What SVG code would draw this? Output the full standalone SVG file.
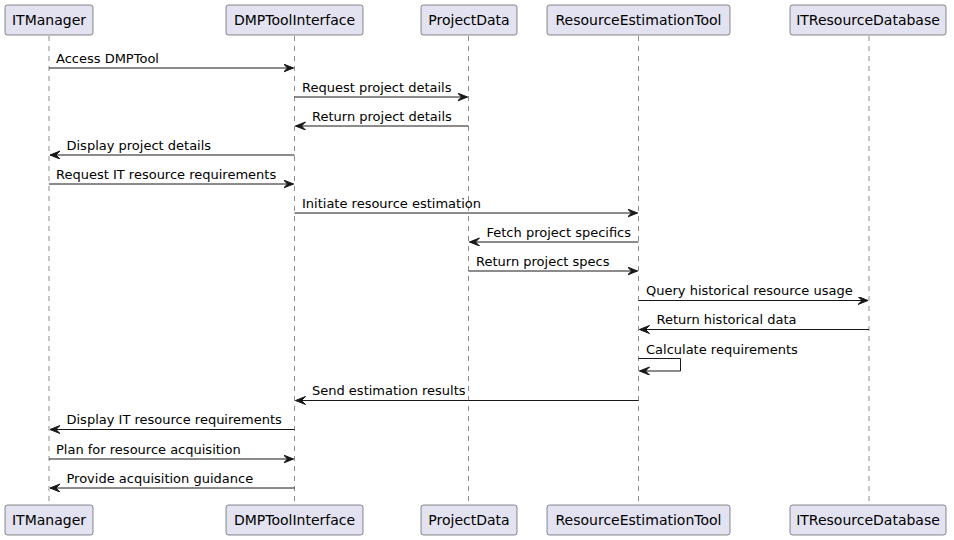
<svg xmlns="http://www.w3.org/2000/svg" width="954" height="540" viewBox="0 0 954 540">
<style>
.box{fill:#E2E2F0;stroke:#181818;stroke-width:0.5}
.bt{font-family:"DejaVu Sans",sans-serif;font-size:14px;fill:#000;text-anchor:middle}
.life{stroke:#181818;stroke-width:0.5;stroke-dasharray:5,5;fill:none}
.msg{stroke:#181818;stroke-width:1;fill:none}
.mt{font-family:"DejaVu Sans",sans-serif;font-size:13px;fill:#000}
.ah{fill:#181818;stroke:#181818;stroke-width:1}
</style>
<defs>
<marker id="arr" markerWidth="12" markerHeight="10" refX="10" refY="4" orient="auto" markerUnits="userSpaceOnUse">
<polygon class="ah" points="0,0 10,4 0,8 4,4"/>
</marker>
</defs>
<rect width="954" height="540" fill="#FFFFFF"/>
<g id="lifelines">
<line class="life" x1="49" y1="36" x2="49" y2="505"/>
<line class="life" x1="294.5" y1="36" x2="294.5" y2="505"/>
<line class="life" x1="468.5" y1="36" x2="468.5" y2="505"/>
<line class="life" x1="638.5" y1="36" x2="638.5" y2="505"/>
<line class="life" x1="869" y1="36" x2="869" y2="505"/>
</g>
<g id="ITManager">
<rect class="box" x="5" y="5" width="88" height="30" rx="2.5"/>
<text class="bt" x="49" y="25">ITManager</text>
<rect class="box" x="5" y="505" width="88" height="30" rx="2.5"/>
<text class="bt" x="49" y="525">ITManager</text>
</g>
<g id="DMPToolInterface">
<rect class="box" x="226" y="5" width="137" height="30" rx="2.5"/>
<text class="bt" x="294.5" y="25">DMPToolInterface</text>
<rect class="box" x="226" y="505" width="137" height="30" rx="2.5"/>
<text class="bt" x="294.5" y="525">DMPToolInterface</text>
</g>
<g id="ProjectData">
<rect class="box" x="421" y="5" width="96" height="30" rx="2.5"/>
<text class="bt" x="469" y="25">ProjectData</text>
<rect class="box" x="421" y="505" width="96" height="30" rx="2.5"/>
<text class="bt" x="469" y="525">ProjectData</text>
</g>
<g id="ResourceEstimationTool">
<rect class="box" x="547" y="5" width="183" height="30" rx="2.5"/>
<text class="bt" x="638.5" y="25">ResourceEstimationTool</text>
<rect class="box" x="547" y="505" width="183" height="30" rx="2.5"/>
<text class="bt" x="638.5" y="525">ResourceEstimationTool</text>
</g>
<g id="ITResourceDatabase">
<rect class="box" x="790" y="5" width="156" height="30" rx="2.5"/>
<text class="bt" x="868" y="25">ITResourceDatabase</text>
<rect class="box" x="790" y="505" width="156" height="30" rx="2.5"/>
<text class="bt" x="868" y="525">ITResourceDatabase</text>
</g>
<g id="connectors">
<line class="msg" x1="49" y1="68" x2="293.5" y2="68" marker-end="url(#arr)"/>
<text class="mt" x="56" y="62.5">Access DMPTool</text>
<line class="msg" x1="294.5" y1="97" x2="467.5" y2="97" marker-end="url(#arr)"/>
<text class="mt" x="302" y="91.5">Request project details</text>
<line class="msg" x1="468.5" y1="126" x2="295.5" y2="126" marker-end="url(#arr)"/>
<text class="mt" x="312" y="120.5">Return project details</text>
<line class="msg" x1="294.5" y1="155" x2="50" y2="155" marker-end="url(#arr)"/>
<text class="mt" x="66.5" y="149.5">Display project details</text>
<line class="msg" x1="49" y1="184" x2="293.5" y2="184" marker-end="url(#arr)"/>
<text class="mt" x="56" y="178.5">Request IT resource requirements</text>
<line class="msg" x1="294.5" y1="213" x2="637.5" y2="213" marker-end="url(#arr)"/>
<text class="mt" x="302" y="207.5">Initiate resource estimation</text>
<line class="msg" x1="638.5" y1="242" x2="469.5" y2="242" marker-end="url(#arr)"/>
<text class="mt" x="486.5" y="236.5">Fetch project specifics</text>
<line class="msg" x1="468.5" y1="271" x2="637.5" y2="271" marker-end="url(#arr)"/>
<text class="mt" x="476" y="265.5">Return project specs</text>
<line class="msg" x1="638.5" y1="300.5" x2="868" y2="300.5" marker-end="url(#arr)"/>
<text class="mt" x="646" y="295">Query historical resource usage</text>
<line class="msg" x1="869" y1="329.5" x2="639.5" y2="329.5" marker-end="url(#arr)"/>
<text class="mt" x="656.5" y="324">Return historical data</text>
<polyline class="msg" points="638.5,358.5 680.5,358.5 680.5,371 639.5,371" marker-end="url(#arr)"/>
<text class="mt" x="646" y="353.5">Calculate requirements</text>
<line class="msg" x1="638.5" y1="400.5" x2="295.5" y2="400.5" marker-end="url(#arr)"/>
<text class="mt" x="312" y="395">Send estimation results</text>
<line class="msg" x1="294.5" y1="429.5" x2="50" y2="429.5" marker-end="url(#arr)"/>
<text class="mt" x="66.5" y="424">Display IT resource requirements</text>
<line class="msg" x1="49" y1="459" x2="293.5" y2="459" marker-end="url(#arr)"/>
<text class="mt" x="56" y="453.5">Plan for resource acquisition</text>
<line class="msg" x1="294.5" y1="488" x2="50" y2="488" marker-end="url(#arr)"/>
<text class="mt" x="66.5" y="482.5">Provide acquisition guidance</text>
</g>
</svg>
